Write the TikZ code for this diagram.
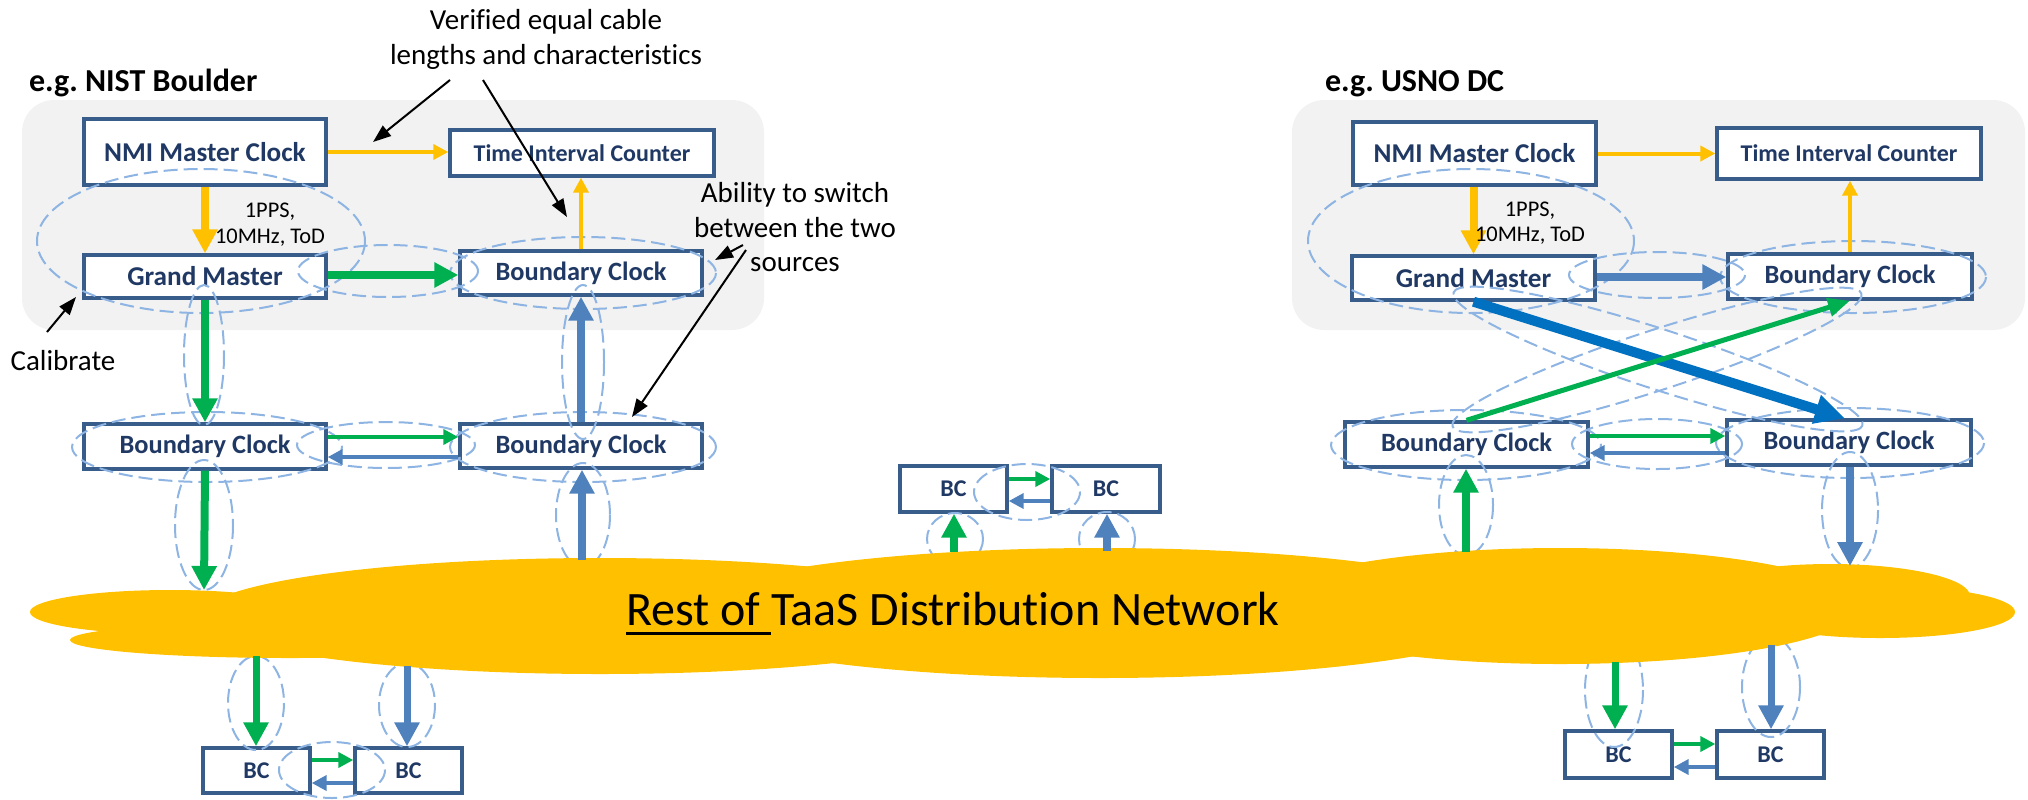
\documentclass[tikz,border=0pt]{standalone}
\usepackage{fontspec}
\setmainfont{Carlito}[Ligatures={TeX,NoCommon}]
\usetikzlibrary{arrows.meta,calc}

\definecolor{boxline}{RGB}{56,93,138}
\definecolor{boxtext}{RGB}{31,56,100}
\definecolor{amber}{RGB}{255,192,0}
\definecolor{grn}{RGB}{0,176,80}
\definecolor{midblue}{RGB}{79,129,189}
\definecolor{deepblue}{RGB}{0,112,192}
\definecolor{ringblue}{RGB}{141,180,226}
\definecolor{panel}{RGB}{242,242,242}

% underline with a heavier rule that also covers the trailing space
\newcommand\ulrest[1]{\setbox0\hbox{#1}\rlap{\rule[-4.9pt]{\wd0}{1.5pt}}\box0}

\begin{document}
\frenchspacing
\begin{tikzpicture}[x=0.5pt,y=-0.5pt,
  clk/.style={draw=boxline, line width=1.7pt, fill=white, inner sep=0pt, text=boxtext},
  big/.style={font=\bfseries\fontsize{13.6pt}{16pt}\selectfont},
  mid/.style={font=\bfseries\fontsize{13.2pt}{15pt}\selectfont},
  small/.style={font=\bfseries\fontsize{12pt}{14pt}\selectfont},
  ring/.style={draw=ringblue, line width=1pt, dash pattern=on 7pt off 3pt},
  fat/.style={line width=4pt, -{Triangle[length=12pt,width=12pt]}},
  slim/.style={line width=2pt, -{Triangle[length=7.5pt,width=7.5pt]}},
  note/.style={font=\fontsize{14.5pt}{17.5pt}\selectfont, anchor=base},
  site/.style={font=\bfseries\fontsize{16pt}{19pt}\selectfont, anchor=base west},
  sig/.style={font=\fontsize{11.2pt}{13pt}\selectfont, anchor=base},
  pointer/.style={line width=1pt, -{Triangle[length=9pt,width=6.5pt]}},
]
\useasboundingbox (0,0) rectangle (2028,799);

% ---------- site panels ----------
\fill[panel, rounded corners=16pt] (22,100) rectangle (764,330);
\fill[panel, rounded corners=16pt] (1292,100) rectangle (2025,330);

\node[site] (siteL) at (22,91) {e.g. NIST Boulder};
\node[site] (siteR) at (1318,91) {e.g. USNO DC};

% ---------- clocks, left site ----------
\node[clk,big,minimum width=121pt,minimum height=33pt] (nmiL) at (205,152) {NMI Master Clock};
\node[clk,small,minimum width=132pt,minimum height=23pt] (ticL) at (582,153) {Time Interval Counter};
\node[clk,big,minimum width=121pt,minimum height=21.5pt] (gmL) at (205,276.5) {Grand Master};
\node[clk,mid,minimum width=121pt,minimum height=22pt] (bcTL) at (581,273) {Boundary Clock};
\node[clk,mid,minimum width=121pt,minimum height=22.5pt] (bcLL) at (205,446.5) {Boundary Clock};
\node[clk,mid,minimum width=121pt,minimum height=22pt] (bcLR) at (581,446) {Boundary Clock};
\node[clk,small,minimum width=53.5pt,minimum height=22.5pt] (bcB1) at (256.5,770.5) {BC};
\node[clk,small,minimum width=53.5pt,minimum height=22.5pt] (bcB2) at (408.5,770.5) {BC};

% ---------- clocks, middle ----------
\node[clk,small,minimum width=53.5pt,minimum height=23pt] (bcM1) at (953.5,489) {BC};
\node[clk,small,minimum width=54pt,minimum height=23pt] (bcM2) at (1106,489) {BC};

% ---------- clocks, right site ----------
\node[clk,big,minimum width=121.5pt,minimum height=31.5pt] (nmiR) at (1474.5,153.5) {NMI Master Clock};
\node[clk,small,minimum width=132pt,minimum height=25.5pt] (ticR) at (1849,153.5) {Time Interval Counter};
\node[clk,big,minimum width=121.5pt,minimum height=22pt] (gmR) at (1473.5,278) {Grand Master};
\node[clk,mid,minimum width=122pt,minimum height=22.5pt] (bcTR) at (1850,276.5) {Boundary Clock};
\node[clk,mid,minimum width=121.5pt,minimum height=22.5pt] (bcRL) at (1466.5,444.5) {Boundary Clock};
\node[clk,mid,minimum width=122pt,minimum height=22.5pt] (bcRR) at (1849,442.5) {Boundary Clock};
\node[clk,small,minimum width=53.5pt,minimum height=23.5pt] (bcB3) at (1618.5,754.5) {BC};
\node[clk,small,minimum width=53.5pt,minimum height=23.5pt] (bcB4) at (1770.5,754.5) {BC};

% ---------- dashed sync-path rings ----------
\draw[ring] (201,241) ellipse (164 and 72);
\draw[ring] (388,271) ellipse (90 and 26);
\draw[ring] (583,273) ellipse (133 and 36);
\draw[ring] (204,355) ellipse (20 and 70);
\draw[ring] (583,362) ellipse (21 and 77);
\draw[ring] (207,447) ellipse (135 and 35);
\draw[ring] (386,445) ellipse (89 and 23);
\draw[ring] (583,447) ellipse (133 and 35);
\draw[ring] (204,525) ellipse (29 and 65);
\draw[ring] (583,515) ellipse (27 and 52);
\draw[ring] (256,703) ellipse (28 and 47);
\draw[ring] (407,705) ellipse (28 and 42);
\draw[ring] (332,770) ellipse (53 and 28);

\draw[ring] (955,539) ellipse (28 and 26);
\draw[ring] (1107,539) ellipse (28 and 27);
\draw[ring] (1027,492) ellipse (53 and 28);

\draw[ring] (1471,241) ellipse (163 and 72);
\draw[ring] (1657,275) ellipse (88 and 23);
\draw[ring] (1853,277) ellipse (133 and 36);
\draw[ring, rotate around={-18:(1658,359)}] (1658,359) ellipse (215 and 30);
\draw[ring, rotate around={18:(1657,360)}] (1657,360) ellipse (215 and 30);
\draw[ring] (1466,445) ellipse (135 and 35);
\draw[ring] (1657,444) ellipse (85 and 25);
\draw[ring] (1850,443) ellipse (134 and 35);
\draw[ring] (1466,505) ellipse (27 and 50);
\draw[ring] (1850,510) ellipse (28 and 58);
\draw[ring] (1614,690) ellipse (29 and 57);
\draw[ring] (1771,687) ellipse (29 and 50);

% ---------- distribution network cloud ----------
\begin{scope}[fill=amber]
  \fill (170,612) ellipse (140 and 22);
  \fill (290,640) ellipse (220 and 18);
  \fill (600,616) ellipse (400 and 58);
  \fill (1100,613) ellipse (420 and 65);
  \fill (1560,606) ellipse (300 and 58);
  \fill (1830,596) ellipse (140 and 32);
  \fill (1880,612) ellipse (135 and 26);
\end{scope}
\node[font=\fontsize{24pt}{28pt}\selectfont, anchor=base] (net) at (953,625)
  {\ulrest{Rest of\ }TaaS Distribution Network};

% cloud attachment points
\coordinate (cL1) at (204,590);
\coordinate (cL2) at (582,560);
\coordinate (cL3) at (256,656);
\coordinate (cL4) at (407,666);
\coordinate (cM1) at (954,552);
\coordinate (cM2) at (1107,551);
\coordinate (cR1) at (1466,552);
\coordinate (cR2) at (1850,566);
\coordinate (cR3) at (1615,662);
\coordinate (cR4) at (1771,645);

% ---------- signal paths, left site ----------
\draw[fat, amber] (nmiL.south) -- (gmL.north);
\draw[slim, amber] (nmiL.east) -- (ticL.west |- nmiL.east);
\draw[slim, amber] (bcTL.north) -- (bcTL.north |- ticL.south);
\draw[fat, grn] (gmL.east |- 0,275) -- (bcTL.west |- 0,275);
\draw[fat, grn] (gmL.south) -- (bcLL.north);
\draw[slim, grn] (bcLL.east |- 0,437) -- (bcLR.west |- 0,437);
\draw[slim, midblue] (bcLR.west |- 0,457) -- (bcLL.east |- 0,457);
\draw[fat, midblue] (bcLR.north) -- (bcTL.south);
\draw[fat, grn] (bcLL.south) -- (cL1);
\draw[fat, midblue] (cL2) -- (bcLR.south -| cL2);
\draw[fat, grn, line width=3.5pt] (cL3) -- (bcB1.north -| cL3);
\draw[fat, midblue, line width=3.5pt] (cL4) -- (bcB2.north -| cL4);
\draw[slim, grn] (bcB1.east |- 0,760) -- (bcB2.west |- 0,760);
\draw[slim, midblue] (bcB2.west |- 0,783) -- (bcB1.east |- 0,783);

% ---------- signal paths, middle ----------
\draw[fat, grn] (cM1) -- (bcM1.south -| cM1);
\draw[fat, midblue] (cM2) -- (bcM2.south -| cM2);
\draw[slim, grn] (bcM1.east |- 0,479) -- (bcM2.west |- 0,479);
\draw[slim, midblue] (bcM2.west |- 0,501) -- (bcM1.east |- 0,501);

% ---------- signal paths, right site ----------
\draw[fat, amber] (nmiR.south -| gmR.north) -- (gmR.north);
\draw[slim, amber] (nmiR.east) -- (ticR.west |- nmiR.east);
\draw[slim, amber] (bcTR.north) -- (bcTR.north |- ticR.south);
\draw[fat, midblue] (gmR.east |- 0,277) -- (bcTR.west |- 0,277);
\draw[deepblue, line width=5pt, -{Triangle[length=15pt,width=14pt]}] (gmR.south) -- (bcRR.north -| 1845,0);
\draw[grn, line width=2.5pt, -{Triangle[length=11pt,width=9pt]}] (bcRL.north) -- (bcTR.south);
\draw[slim, grn] (bcRL.east |- 0,436) -- (bcRR.west |- 0,436);
\draw[slim, midblue] (bcRR.west |- 0,453) -- (bcRL.east |- 0,453);
\draw[fat, grn] (cR1) -- (bcRL.south -| cR1);
\draw[fat, midblue] (bcRR.south -| cR2) -- (cR2);
\draw[fat, grn, line width=3.5pt] (cR3) -- (bcB3.north -| cR3);
\draw[fat, midblue, line width=3.5pt] (cR4) -- (bcB4.north -| cR4);
\draw[slim, grn] (bcB3.east |- 0,744) -- (bcB4.west |- 0,744);
\draw[slim, midblue] (bcB4.west |- 0,767) -- (bcB3.east |- 0,767);

% ---------- signal labels ----------
\node[sig] (sigL1) at (270,217) {1PPS,};
\node[sig] (sigL2) at (270,243) {10MHz, ToD};
\node[sig] (sigR1) at (1530,216) {1PPS,};
\node[sig] (sigR2) at (1530,241) {10MHz, ToD};

% ---------- annotations ----------
\node[note] (cab1) at (546,29) {Verified equal cable};
\node[note] (cab2) at (546,64) {lengths and characteristics};
\node[note] (sw1) at (795,202) {Ability to switch};
\node[note] (sw2) at (795,237) {between the two};
\node[note] (sw3) at (795,271) {sources};
\node[note] (cal) at (63,370) {Calibrate};

\coordinate (cabA) at (450,80);
\coordinate (cabB) at (483,80);
\coordinate (cabAend) at (373,142);
\coordinate (cabBend) at (567,217);
\coordinate (swA) at (743,245);
\coordinate (swB) at (746,250);
\coordinate (swAend) at (715,260);
\coordinate (swBend) at (632,417);
\coordinate (calA) at (47,332);
\coordinate (calend) at (76,297);

\draw[pointer] (cabA) -- (cabAend);
\draw[pointer] (cabB) -- (cabBend);
\draw[pointer] (swA) -- (swAend);
\draw[pointer] (swB) -- (swBend);
\draw[pointer] (calA) -- (calend);
\end{tikzpicture}
\end{document}
